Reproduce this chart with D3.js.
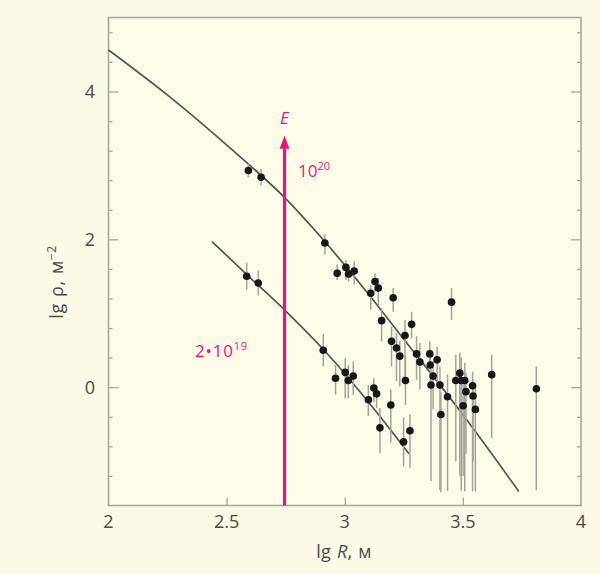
<!DOCTYPE html>
<html>
<head>
<meta charset="utf-8">
<script src="https://cdn.jsdelivr.net/npm/d3@7"></script>
<style>
  html, body { margin: 0; padding: 0; background: #fdf9e7; }
  svg { display: block; }
  text { font-family: "Open Sans", "Noto Sans", sans-serif; }
</style>
</head>
<body>
<svg id="chart" width="600" height="574"></svg>
<script>
// Shower lateral distribution: lg of particle density vs lg of core distance

// E = 1e20 eV showers: [lgR, lgRho, lower, upper]
const showerHigh = [
  [2.592, 2.93, 2.84, 3.02],
  [2.646, 2.84, 2.73, 2.95],
  [2.916, 1.95, 1.79, 2.07],
  [2.968, 1.54, 1.45, 1.66],
  [3.005, 1.62, 1.45, 1.72],
  [3.016, 1.53, 1.43, 1.62],
  [3.040, 1.57, 1.39, 1.70],
  [3.110, 1.27, 1.05, 1.38],
  [3.128, 1.43, 1.29, 1.54],
  [3.142, 1.34, 1.11, 1.48],
  [3.156, 0.90, 0.62, 1.07],
  [3.198, 0.62, 0.28, 0.82],
  [3.205, 1.21, 1.02, 1.34],
  [3.219, 0.53, 0.08, 0.73],
  [3.233, 0.42, 0.01, 0.62],
  [3.255, 0.70, 0.10, 0.91],
  [3.257, 0.09, -0.24, 0.42],
  [3.283, 0.85, 0.66, 1.02],
  [3.304, 0.45, 0.10, 0.69],
  [3.318, 0.34, -0.03, 0.60],
  [3.360, 0.45, 0.25, 0.62],
  [3.362, 0.30, 0.00, 0.47],
  [3.365, 0.03, -1.27, 0.24],
  [3.374, 0.15, -0.30, 0.35],
  [3.391, 0.37, 0.05, 0.55],
  [3.403, 0.03, -1.39, 0.28],
  [3.407, -0.37, -1.42, -0.07],
  [3.435, -0.13, -1.40, 0.17],
  [3.452, 1.15, 0.91, 1.34],
  [3.470, 0.09, -1.00, 0.44],
  [3.487, 0.19, -1.20, 0.47],
  [3.493, 0.09, -1.40, 0.40],
  [3.501, -0.25, -1.20, 0.05],
  [3.508, 0.09, -1.41, 0.33],
  [3.513, -0.06, -0.90, 0.20],
  [3.541, 0.02, -1.41, 0.21],
  [3.543, -0.12, -1.00, 0.10],
  [3.553, -0.30, -1.41, 0.01],
  [3.622, 0.17, -0.69, 0.44],
  [3.811, -0.02, -1.39, 0.28]
];

// E = 2e19 eV showers: [lgR, lgRho, lower, upper]
const showerLow = [
  [2.585, 1.50, 1.32, 1.68],
  [2.634, 1.41, 1.24, 1.58],
  [2.909, 0.50, 0.28, 0.72],
  [2.961, 0.12, -0.10, 0.30],
  [3.002, 0.20, -0.15, 0.39],
  [3.015, 0.09, -0.15, 0.30],
  [3.036, 0.15, -0.10, 0.35],
  [3.100, -0.17, -0.39, 0.03],
  [3.123, -0.01, -0.20, 0.12],
  [3.135, -0.09, -0.28, 0.01],
  [3.149, -0.55, -0.89, -0.28],
  [3.195, -0.24, -0.75, -0.03],
  [3.249, -0.74, -1.07, -0.41],
  [3.276, -0.59, -1.09, -0.37]
];

// Fitted lateral distribution functions
const fitHigh = [
  [2.00, 4.56], [2.25, 3.95], [2.52, 3.22], [2.75, 2.55],
  [2.91, 1.99], [3.10, 1.26], [3.23, 0.73], [3.49, -0.33], [3.737, -1.41]
];
const fitLow = [
  [2.438, 1.97], [2.60, 1.48], [2.75, 1.03], [2.91, 0.51],
  [3.10, -0.20], [3.272, -0.90]
];

// Energy marker
const energyX = 2.745;
const energyTop = 3.40;

const xTickValues = [2, 2.5, 3, 3.5, 4];
const xTickLabels = ["2", "2.5", "3", "3.5", "4"];
const yTickValues = [0, 2, 4];
const yTickLabels = ["0", "2", "4"];
const yMinorTicks = [-1.2, -0.8, -0.4, 0.4, 0.8, 1.2, 1.6, 2.4, 2.8, 3.2, 3.6, 4.4, 4.8];

const svg = d3.select("#chart");
const plotLeft = 108.5, plotRight = 581, plotTop = 17.5, plotBottom = 505.5;

const x = d3.scaleLinear().domain([2, 4]).range([plotLeft, plotRight]);
const y = d3.scaleLinear().domain([-1.6, 5]).range([plotBottom, plotTop]);

const magenta = "#e5177f";
const frameColor = "#a9a797";
const textColor = "#4a4a4a";

// Frame
svg.append("rect")
  .attr("x", plotLeft).attr("y", plotTop)
  .attr("width", plotRight - plotLeft).attr("height", plotBottom - plotTop)
  .attr("fill", "#fefbe9")
  .attr("stroke", frameColor).attr("stroke-width", 1.6);

// Inward ticks on the left, right and bottom sides
const yAxisL = d3.axisRight(y).tickValues(yTickValues).tickSize(10).tickFormat("");
const yAxisR = d3.axisLeft(y).tickValues(yTickValues).tickSize(10).tickFormat("");
const yMinL = d3.axisRight(y).tickValues(yMinorTicks).tickSize(4).tickFormat("");
const yMinR = d3.axisLeft(y).tickValues(yMinorTicks).tickSize(4).tickFormat("");
const xAxisB = d3.axisTop(x).tickValues([2.5, 3, 3.5]).tickSize(8).tickFormat("");

[[yAxisL, plotLeft, 0], [yMinL, plotLeft, 0], [yAxisR, plotRight, 0], [yMinR, plotRight, 0], [xAxisB, 0, plotBottom]]
  .forEach(([ax, tx, ty]) => {
    const g = svg.append("g").attr("transform", `translate(${tx},${ty})`).call(ax);
    g.select(".domain").remove();
    g.selectAll("line").attr("stroke", frameColor).attr("stroke-width", 1.3);
  });

// Tick labels
svg.append("g").selectAll("text").data(xTickValues).join("text")
  .attr("x", d => x(d)).attr("y", 528)
  .attr("text-anchor", "middle")
  .attr("font-size", 18).attr("fill", textColor)
  .text((d, i) => xTickLabels[i]);

svg.append("g").selectAll("text").data(yTickValues).join("text")
  .attr("x", 95).attr("y", d => y(d) + 6.5)
  .attr("text-anchor", "end")
  .attr("font-size", 18).attr("fill", textColor)
  .text((d, i) => yTickLabels[i]);

// Axis titles
const xTitle = svg.append("text")
  .attr("x", 344).attr("y", 558)
  .attr("text-anchor", "middle")
  .attr("font-size", 18).attr("letter-spacing", 0.4).attr("word-spacing", 0.5)
  .attr("fill", textColor);
xTitle.append("tspan").text("lg ");
xTitle.append("tspan").attr("font-style", "italic").text("R");
xTitle.append("tspan").text(", м");

const yTitle = svg.append("text")
  .attr("transform", "translate(63,282) rotate(-90)")
  .attr("text-anchor", "middle")
  .attr("font-size", 18).attr("letter-spacing", 0.6).attr("word-spacing", 1)
  .attr("fill", textColor);
yTitle.append("tspan").text("lg ρ, м");
yTitle.append("tspan").attr("font-size", 12).attr("dy", -7).text("−2");

// Fitted curves
const line = d3.line().x(d => x(d[0])).y(d => y(d[1])).curve(d3.curveMonotoneX);
[fitHigh, fitLow].forEach(f => {
  svg.append("path").datum(f)
    .attr("d", line)
    .attr("fill", "none")
    .attr("stroke", "#555552")
    .attr("stroke-width", 1.7);
});

// Error bars and points
[showerHigh, showerLow].forEach(series => {
  svg.append("g").selectAll("line").data(series).join("line")
    .attr("x1", d => x(d[0])).attr("x2", d => x(d[0]))
    .attr("y1", d => y(d[2])).attr("y2", d => y(d[3]))
    .attr("stroke", "#a3a39a").attr("stroke-width", 1.5);
});
[showerHigh, showerLow].forEach(series => {
  svg.append("g").selectAll("circle").data(series).join("circle")
    .attr("cx", d => x(d[0])).attr("cy", d => y(d[1]))
    .attr("r", 3.8)
    .attr("fill", "#171717");
});

// Energy arrow
const ax0 = x(energyX), ay0 = y(energyTop);
svg.append("line")
  .attr("x1", ax0).attr("x2", ax0)
  .attr("y1", plotBottom).attr("y2", ay0 + 10)
  .attr("stroke", magenta).attr("stroke-width", 3.2);
svg.append("path")
  .attr("d", `M${ax0},${ay0} L${ax0 - 5},${ay0 + 13} L${ax0 + 5},${ay0 + 13} Z`)
  .attr("fill", magenta);

svg.append("text")
  .attr("x", ax0).attr("y", 124)
  .attr("text-anchor", "middle")
  .attr("font-size", 17).attr("font-style", "italic").attr("fill", magenta)
  .text("E");

const lab1 = svg.append("text")
  .attr("x", 298).attr("y", 177)
  .attr("font-size", 17).attr("fill", magenta);
lab1.append("tspan").text("10");
lab1.append("tspan").attr("font-size", 11).attr("dy", -7).text("20");

const lab2 = svg.append("text")
  .attr("x", 195).attr("y", 357)
  .attr("font-size", 17).attr("letter-spacing", 0.8).attr("fill", magenta);
lab2.append("tspan").text("2•10");
lab2.append("tspan").attr("font-size", 11).attr("dy", -7).text("19");
</script>
</body>
</html>
